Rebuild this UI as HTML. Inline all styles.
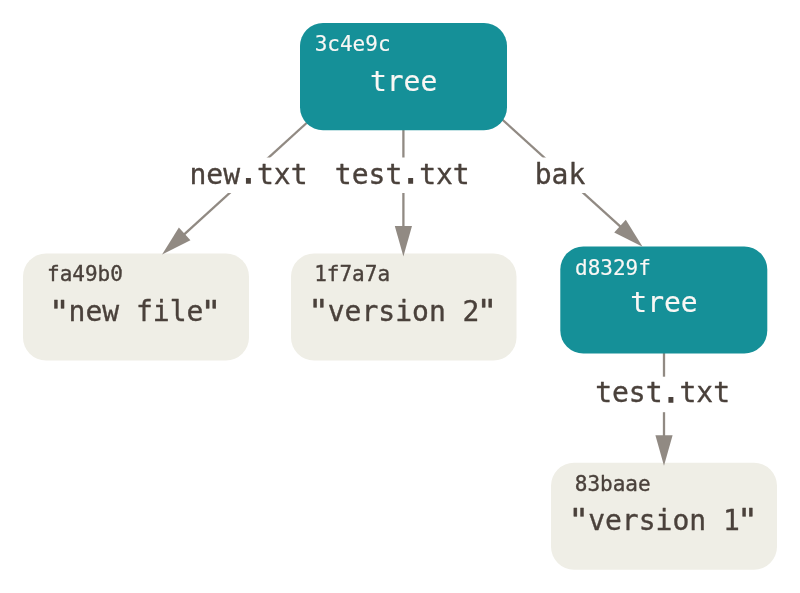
<!DOCTYPE html>
<html>
<head>
<meta charset="utf-8">
<title>Git tree objects</title>
<style>
html,body{margin:0;padding:0;background:#fff;}
body{width:800px;height:593px;overflow:hidden;}
svg{display:block;will-change:transform;}
text{font-family:"DejaVu Sans Mono","Liberation Mono",monospace;stroke-linejoin:round;}
.s{font-size:21px;stroke-width:0.35px;}
.l{font-size:28px;stroke-width:0.35px;}
.q{font-size:30.7px;}
.p{stroke-width:1.5px;stroke-linejoin:miter;}
.d{fill:#4a413b;stroke:#4a413b;}
.w{fill:#f9f7f5;stroke:#f9f7f5;stroke-width:0.15px;}
.ln{stroke:#918a83;stroke-width:2.3;fill:none;}
.ah{fill:#918a83;}
.t{fill:#159098;}
.b{fill:#efeee6;}
.bg{fill:#ffffff;}
</style>
</head>
<body>
<svg width="800" height="593" viewBox="0 0 800 593">
  <!-- connectors -->
  <line class="ln" x1="306.60" y1="123.00" x2="183.93" y2="234.55"/>
  <line class="ln" x1="403.40" y1="128.00" x2="403.40" y2="226.90"/>
  <line class="ln" x1="500.00" y1="117.50" x2="620.74" y2="226.89"/>
  <line class="ln" x1="664.00" y1="351.00" x2="664.00" y2="436.20"/>
  <!-- label backgrounds -->
  <rect class="bg" x="174" y="157.500" width="148" height="35.500"/>
  <rect class="bg" x="320" y="157.500" width="165" height="35.500"/>
  <rect class="bg" x="520.500" y="157.500" width="80" height="35.500"/>
  <rect class="bg" x="581" y="376.700" width="165" height="35.500"/>
  <!-- boxes -->
  <rect class="t" x="300" y="23" width="207" height="107.300" rx="23" ry="23"/>
  <rect class="b" x="23" y="253.500" width="226" height="107" rx="23" ry="23"/>
  <rect class="b" x="291" y="253.500" width="225.500" height="107" rx="23" ry="23"/>
  <rect class="t" x="560.300" y="246.600" width="207" height="107" rx="23" ry="23"/>
  <rect class="b" x="551" y="462.800" width="226" height="107" rx="23" ry="23"/>
  <!-- arrow heads -->
  <polygon class="ah" points="162.10,254.40 178.88,227.52 190.45,240.24"/>
  <polygon class="ah" points="403.40,256.40 394.80,225.90 412.00,225.90"/>
  <polygon class="ah" points="642.60,246.70 614.22,232.59 625.77,219.85"/>
  <polygon class="ah" points="664.00,465.70 655.40,435.20 672.60,435.20"/>
  <!-- labels -->
  <text class="s w" x="314.700" y="51.100">3c4e9c</text>
  <text class="l w" x="403.600" y="91" text-anchor="middle">tree</text>
  <text class="l d" x="248.50" y="184.00" text-anchor="middle">new<tspan class="p" dy="-0.65">.</tspan><tspan dy="0.65">txt</tspan></text>
  <text class="l d" x="402.30" y="184.00" text-anchor="middle">test<tspan class="p" dy="-0.65">.</tspan><tspan dy="0.65">txt</tspan></text>
  <text class="l d" x="560" y="184" text-anchor="middle">bak</text>
  <text class="s d" x="47" y="280.800">fa49b0</text>
  <text class="l d" y="320.90"><tspan class="q" x="48.53" dy="0.74" textLength="21.42" lengthAdjust="spacingAndGlyphs">"</tspan><tspan x="68.57" dy="-0.74">new file</tspan><tspan class="q" x="200.25" dy="0.74" textLength="21.42" lengthAdjust="spacingAndGlyphs">"</tspan></text>
  <text class="s d" x="314.200" y="281.100">1f7a7a</text>
  <text class="l d" y="320.50"><tspan class="q" x="307.70" dy="0.74" textLength="21.42" lengthAdjust="spacingAndGlyphs">"</tspan><tspan x="327.74" dy="-0.74">version 2</tspan><tspan class="q" x="476.28" dy="0.74" textLength="21.42" lengthAdjust="spacingAndGlyphs">"</tspan></text>
  <text class="s w" x="575" y="274.500">d8329f</text>
  <text class="l w" x="664" y="312" text-anchor="middle">tree</text>
  <text class="l d" x="662.60" y="402.40" text-anchor="middle">test<tspan class="p" dy="-0.65">.</tspan><tspan dy="0.65">txt</tspan></text>
  <text class="s d" x="574.800" y="490.500">83baae</text>
  <text class="l d" y="529.70"><tspan class="q" x="568.10" dy="0.74" textLength="21.42" lengthAdjust="spacingAndGlyphs">"</tspan><tspan x="588.14" dy="-0.74">version 1</tspan><tspan class="q" x="736.68" dy="0.74" textLength="21.42" lengthAdjust="spacingAndGlyphs">"</tspan></text>
</svg>
</body>
</html>
